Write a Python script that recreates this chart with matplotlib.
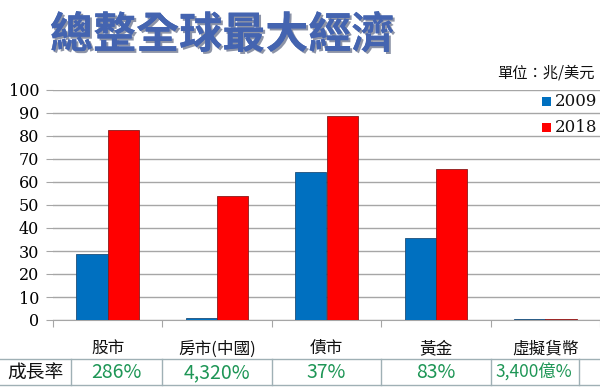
import matplotlib
matplotlib.use("Agg")
import matplotlib.pyplot as plt
import matplotlib.patheffects as pe
from matplotlib.lines import Line2D
import numpy as np

categories = ["股市", "房市(中國)", "債市", "黃金", "虛擬貨幣"]
values_2009 = [28.7, 1.0, 64.5, 35.7, 0.3]
values_2018 = [82.5, 53.8, 88.8, 65.5, 0.4]
growth = ["286%", "4,320%", "37%", "83%", "3,400億%"]
series_names = ["2009", "2018"]
yticks = list(range(0, 101, 10))

CJK = ["Noto Sans CJK TC", "DejaVu Sans"]
SERIF = ["DejaVu Serif"]

W, H = 600, 390
fig = plt.figure(figsize=(6, 3.9), dpi=100)
fig.patch.set_facecolor("white")

def fx(px):
    return px / W

def fy(py):
    return 1 - py / H

ax = fig.add_axes([fx(53), fy(320), fx(600) - fx(53), fy(90) - fy(320)])
x = np.arange(len(categories))
bw = 0.285
off = 0.143
ax.bar(x - off, values_2009, bw, color="#0070c0", edgecolor="#1f4e79", linewidth=0.6, zorder=3)
ax.bar(x + off, values_2018, bw, color="#ff0000", edgecolor="#8b1a1a", linewidth=0.6, zorder=3)
ax.set_xlim(-0.5, len(categories) - 0.5)
ax.set_ylim(0, 100)
ax.set_yticks(yticks)
ax.set_yticklabels([str(v) for v in yticks], family=SERIF, fontsize=11.5)
ax.yaxis.grid(True, color="#a6a6a6", linewidth=1.0, zorder=0)
ax.tick_params(axis="y", length=5, color="#a6a6a6", pad=5)
for s in ["top", "right", "left"]:
    ax.spines[s].set_visible(False)
ax.spines["bottom"].set_color("#a6a6a6")
ax.set_xticks(np.arange(-0.5, len(categories) + 0.5, 1.0))
ax.set_xticklabels([])
ax.tick_params(axis="x", length=5, color="#a6a6a6")

# category labels
for i, c in enumerate(categories):
    ax.text(i, -12.5, c, ha="center", va="center", family=CJK, fontsize=12, fontweight="medium", color="#111111")

# title
fig.text(fx(222), fy(35), "總整全球最大經濟", ha="center", va="center", family=CJK,
         fontsize=31, fontweight="bold", color="#4464b0",
         path_effects=[pe.withSimplePatchShadow(offset=(1.5, -1.5), shadow_rgbFace="#1c2a50", alpha=0.5), pe.Normal()])

# unit
fig.text(fx(595), fy(73), "單位：兆/美元", ha="right", va="center", family=CJK, fontsize=11, color="#111111")

# legend
for name, col, py in [(series_names[0], "#0070c0", 101), (series_names[1], "#ff0000", 127)]:
    fig.patches.append(plt.Rectangle((fx(542), fy(py + 5)), fx(9), fy(py - 4) - fy(py + 5),
                                     transform=fig.transFigure, facecolor=col, edgecolor="none"))
    fig.text(fx(555), fy(py), name, ha="left", va="center", family=SERIF, fontsize=12, color="#111111")

# table
for py in [359, 385]:
    fig.lines.append(Line2D([0, 1], [fy(py), fy(py)], transform=fig.transFigure, color="#9fb0b5", linewidth=1.0))
for px in [71, 162, 272, 381, 491, 579]:
    fig.lines.append(Line2D([fx(px), fx(px)], [fy(359), fy(385)], transform=fig.transFigure, color="#9fb0b5", linewidth=1.0))
fig.text(fx(35), fy(373), "成長率", ha="center", va="center", family=CJK, fontsize=13.5, fontweight="medium", color="#111111")
centers = [116, 217, 326, 436, 534]
for cx, g in zip(centers, growth):
    fig.text(fx(cx), fy(373), g, ha="center", va="center", family=CJK, fontsize=14 if len(g) < 7 else 12.5, color="#1e9656")

fig.savefig("out.png", dpi=100)
